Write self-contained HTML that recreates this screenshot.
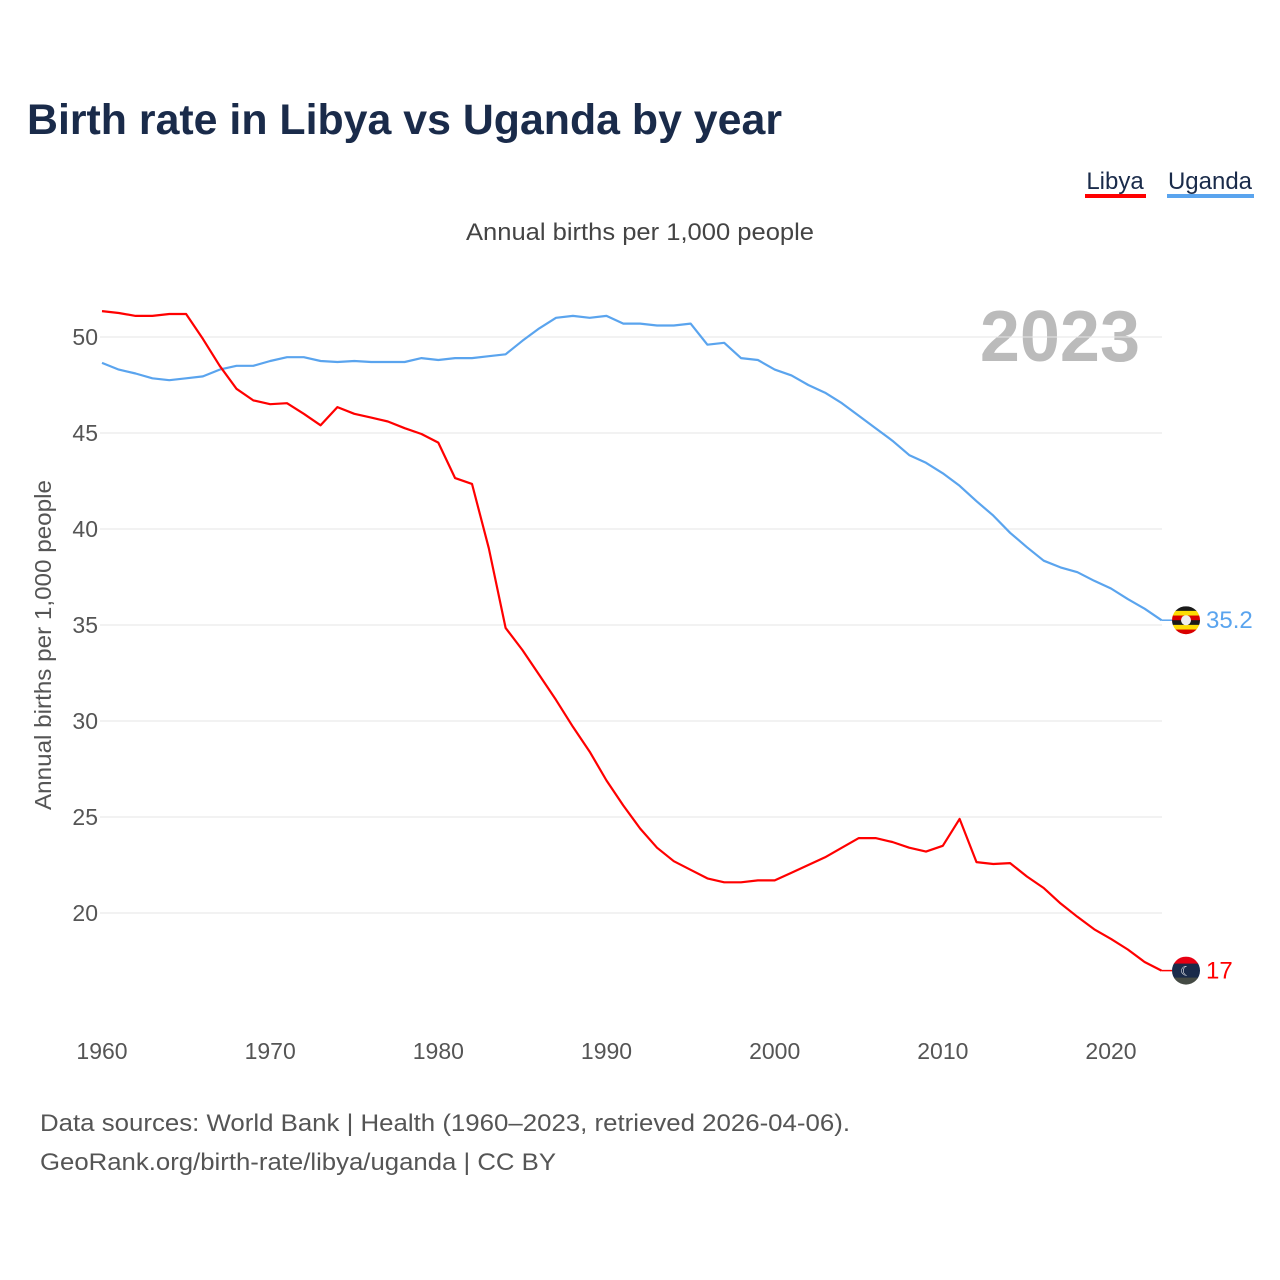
<!DOCTYPE html>
<html><head><meta charset="utf-8">
<style>
body{margin:0;background:#fff;font-family:"Liberation Sans",sans-serif;}
#wrap{position:relative;width:1280px;height:1280px;overflow:hidden;}
</style></head>
<body>
<div id="wrap">
<svg id="chart" width="1280" height="1280" xmlns="http://www.w3.org/2000/svg">
<text x="27" y="134" font-size="42.5" font-weight="bold" fill="#1a2b4a" textLength="755" lengthAdjust="spacingAndGlyphs">Birth rate in Libya vs Uganda by year</text>
<g><text x="1115" y="189" font-size="24" fill="#1a2b4a" text-anchor="middle">Libya</text><rect x="1085" y="194" width="61" height="4" fill="#f00"/></g>
<g><text x="1210" y="189" font-size="24" fill="#1a2b4a" text-anchor="middle">Uganda</text><rect x="1167" y="194" width="87" height="4" fill="#5aa4ee"/></g>
<text x="466" y="240" font-size="24" fill="#444" textLength="348" lengthAdjust="spacingAndGlyphs">Annual births per 1,000 people</text>
<text x="1140" y="361" font-size="72" font-weight="bold" fill="#bbb" text-anchor="end">2023</text>
<text transform="translate(51,645) rotate(-90)" font-size="23" fill="#555" text-anchor="middle" textLength="330" lengthAdjust="spacingAndGlyphs">Annual births per 1,000 people</text>
<g id="grid"></g><g id="ticks"></g><g id="lines"></g><g id="ends"></g>
<text x="40" y="1131" font-size="24" fill="#555" textLength="810" lengthAdjust="spacingAndGlyphs">Data sources: World Bank | Health (1960–2023, retrieved 2026-04-06).</text>
<text x="40" y="1170" font-size="24" fill="#555" textLength="516" lengthAdjust="spacingAndGlyphs">GeoRank.org/birth-rate/libya/uganda | CC BY</text>
</svg>
</div>
<script>
const startYear = 1960;
const xTicks = [1960,1970,1980,1990,2000,2010,2020];
const yTicks = [20,25,30,35,40,45,50];
const libya = [51.35,51.25,51.1,51.1,51.2,51.2,49.9,48.5,47.3,46.7,46.5,46.55,46.0,45.4,46.35,46.0,45.8,45.6,45.25,44.95,44.5,42.65,42.35,39.0,34.85,33.7,32.4,31.1,29.7,28.4,26.9,25.6,24.4,23.4,22.7,22.25,21.8,21.6,21.6,21.7,21.7,22.1,22.5,22.9,23.4,23.9,23.9,23.7,23.4,23.2,23.5,24.9,22.65,22.55,22.6,21.9,21.3,20.5,19.8,19.15,18.65,18.1,17.45,17.0];
const uganda = [48.65,48.3,48.1,47.85,47.75,47.85,47.95,48.3,48.5,48.5,48.75,48.95,48.95,48.75,48.7,48.75,48.7,48.7,48.7,48.9,48.8,48.9,48.9,49.0,49.1,49.8,50.45,51.0,51.1,51.0,51.1,50.7,50.7,50.6,50.6,50.7,49.6,49.7,48.9,48.8,48.3,48.0,47.5,47.1,46.55,45.9,45.25,44.6,43.85,43.45,42.9,42.25,41.45,40.7,39.8,39.05,38.35,38.0,37.75,37.3,36.9,36.35,35.85,35.25];
const libyaLabel = "17", ugandaLabel = "35.2";
const NS="http://www.w3.org/2000/svg";
const X = y => 102 + (y-1960)*(1009/60);
const Y = v => 337 + (50-v)*19.2;
function mk(tag, attrs, parent){const e=document.createElementNS(NS,tag);for(const k in attrs)e.setAttribute(k,attrs[k]);document.getElementById(parent).appendChild(e);return e;}
yTicks.forEach(v=>{
  const l=mk('line',{x1:100,x2:1162,y1:Y(v),y2:Y(v),stroke:'#e6e6e6','stroke-width':1},'grid');
  
  
  const t=mk('text',{x:98,y:Y(v)+8,'font-size':23,fill:'#555','text-anchor':'end'},'ticks');
  t.textContent=v;
  
  
});
xTicks.forEach(y=>{
  const t=mk('text',{x:X(y),y:1059,'font-size':23,fill:'#555','text-anchor':'middle'},'ticks');
  t.textContent=y;
  
  
});
function line(arr,color,name){
  const d=arr.map((v,i)=>(i?'L':'M')+X(startYear+i).toFixed(1)+','+Y(v).toFixed(1)).join('');
  const p=mk('path',{d:d,fill:'none',stroke:color,'stroke-width':2.2,'stroke-linejoin':'round'},'lines');
  
  
}
line(uganda,'#5aa4ee','uganda-line');
line(libya,'#f00','libya-line');
function endMark(arr,color,label,name,stripes){
  const last=arr[arr.length-1], xe=X(startYear+arr.length-1), ye=Y(last), cx=1186;
  mk('line',{x1:xe,x2:cx-14,y1:ye,y2:ye,stroke:color,'stroke-width':1.5},'ends');
  const g=document.createElementNS(NS,'g');document.getElementById('ends').appendChild(g);
  
  
  const cp=document.createElementNS(NS,'clipPath');cp.setAttribute('id','c'+name);
  const c=document.createElementNS(NS,'circle');c.setAttribute('cx',cx);c.setAttribute('cy',ye);c.setAttribute('r',14);cp.appendChild(c);g.appendChild(cp);
  const h=28/stripes.length;
  stripes.forEach((s,i)=>{const r=document.createElementNS(NS,'rect');r.setAttribute('x',cx-14);r.setAttribute('y',ye-14+i*h);r.setAttribute('width',28);r.setAttribute('height',h+0.5);r.setAttribute('fill',s);r.setAttribute('clip-path','url(#c'+name+')');g.appendChild(r);});
  const w=document.createElementNS(NS,'circle');w.setAttribute('cx',cx);w.setAttribute('cy',ye);w.setAttribute('r',name==='uganda'?5:0);w.setAttribute('fill','#eee');g.appendChild(w);
  if(name==='libya'){const t=document.createElementNS(NS,'text');t.setAttribute('x',cx);t.setAttribute('y',ye+5);t.setAttribute('font-size',13);t.setAttribute('fill','#fff');t.setAttribute('text-anchor','middle');t.textContent='☾';g.appendChild(t);}
  const t=mk('text',{x:1206,y:ye+8,'font-size':24,fill:color},'ends');
  t.textContent=label;
  
  
}
endMark(uganda,'#5aa4ee',ugandaLabel,'uganda',['#1a1a1a','#fcdc04','#d90000','#1a1a1a','#fcdc04','#d90000']);
endMark(libya,'#f00',libyaLabel,'libya',['#e70013','#1a2b4a','#1a2b4a','#444a44']);
</script>
</body></html>
